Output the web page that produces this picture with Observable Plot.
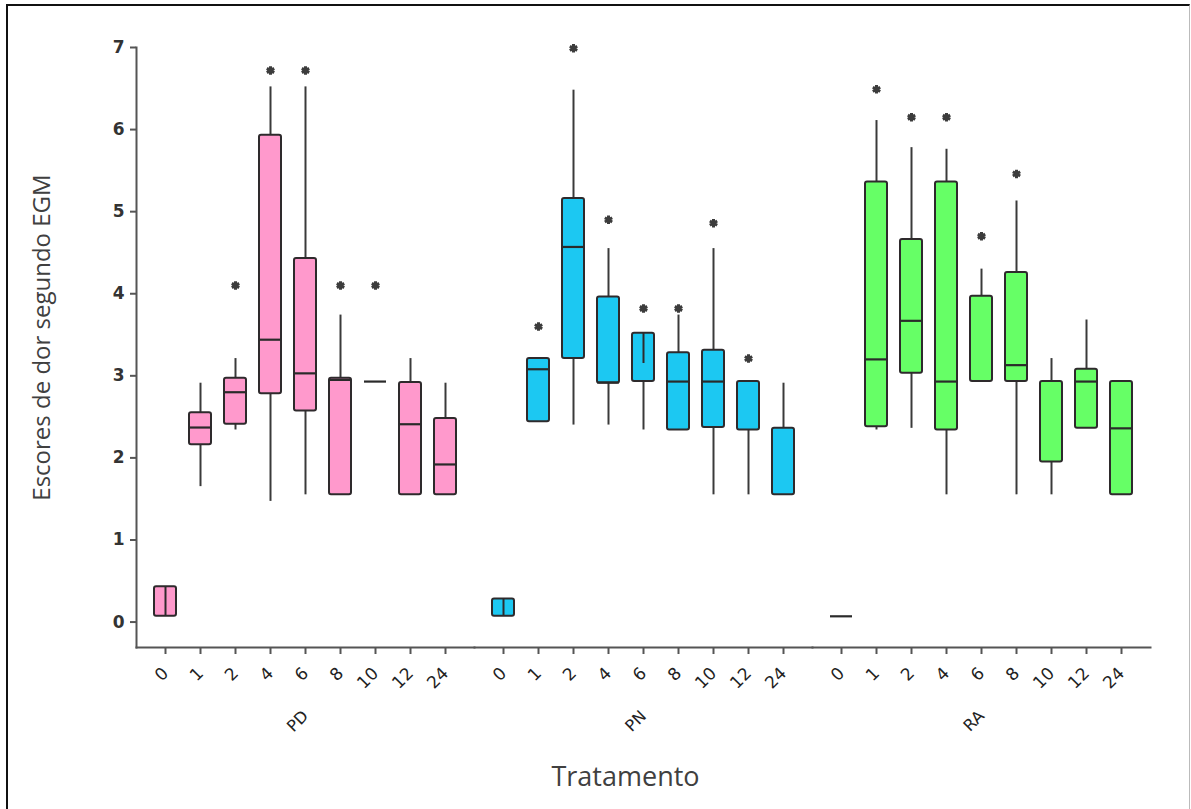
<!DOCTYPE html>
<html>
<head>
<meta charset="utf-8">
<script src="https://cdn.jsdelivr.net/npm/d3@7"></script>
<script src="https://cdn.jsdelivr.net/npm/@observablehq/plot@0.6"></script>
<style>
  html, body { margin: 0; padding: 0; background: #fff; }
  #wrap { position: relative; width: 1191px; height: 809px; overflow: hidden; }
  #border { position: absolute; left: 6px; top: 4px; width: 1181px; height: 820px;
            border-left: 2px solid #111; border-top: 2px solid #111; border-right: 1px solid #bbb; }
  #chart { position: absolute; left: 0; top: 0; }
</style>
</head>
<body>
<div id="wrap">
  <div id="border"></div>
  <div id="chart"></div>
</div>
<script>
// Groups (treatments) and time points
const groups = ["PD", "PN", "RA"];
const times = ["0", "1", "2", "4", "6", "8", "10", "12", "24"];
const groupColors = ["#ff99cc", "#1cc8f2", "#66ff66"];
const yTicks = [0, 1, 2, 3, 4, 5, 6, 7];
const yTitle = "Escores de dor segundo EGM";
const xTitle = "Tratamento";

// Box-plot summaries, 9 per group in order PD, PN, RA (null = not drawn)
const whiskerLow = [
  null, 1.65, 2.34, 1.47, 1.55, null, null, null, null,
  null, null, 2.40, 2.40, 2.34, null, 1.55, 1.55, null,
  null, 2.34, 2.36, 1.55, null, 1.55, 1.55, null, null
];
const q1 = [
  0.07, 2.16, 2.41, 2.78, 2.57, 1.55, null, 1.55, 1.55,
  0.07, 2.44, 3.21, 2.91, 2.93, 2.34, 2.37, 2.34, 1.55,
  null, 2.38, 3.03, 2.34, 2.93, 2.93, 1.95, 2.36, 1.55
];
const median = [
  null, 2.37, 2.80, 3.44, 3.03, 2.95, 2.93, 2.41, 1.92,
  null, 3.08, 4.57, 2.92, null, 2.93, 2.93, null, null,
  0.07, 3.20, 3.67, 2.93, null, 3.13, null, 2.93, 2.36
];
const q3 = [
  0.43, 2.55, 2.97, 5.93, 4.43, 2.97, null, 2.92, 2.48,
  0.28, 3.21, 5.16, 3.96, 3.52, 3.28, 3.31, 2.93, 2.36,
  null, 5.36, 4.66, 5.36, 3.97, 4.26, 2.93, 3.08, 2.93
];
const whiskerHigh = [
  null, 2.91, 3.21, 6.52, 6.52, 3.74, null, 3.21, 2.91,
  null, null, 6.48, 4.55, null, 3.74, 4.55, null, 2.91,
  null, 6.11, 5.78, 5.76, 4.30, 5.13, 3.21, 3.68, null
];
const outlier = [
  null, null, 4.10, 6.72, 6.72, 4.10, 4.10, null, null,
  null, 3.60, 6.99, 4.90, 3.82, 3.82, 4.86, 3.21, null,
  null, 6.49, 6.15, 6.15, 4.70, 5.46, null, null, null
];
// vertical line drawn inside some boxes (as in the original figure)
const innerLow = [
  0.07, null, null, null, null, null, null, null, null,
  0.07, null, null, null, 3.15, null, null, null, null,
  null, null, null, null, null, null, null, null, null
];
const innerHigh = [
  0.43, null, null, null, null, null, null, null, null,
  0.28, null, null, null, 3.52, null, null, null, null,
  null, null, null, null, null, null, null, null, null
];

const rows = groups.flatMap((g, gi) => times.map((t, ti) => {
  const i = gi * times.length + ti;
  return {
    group: g, time: t,
    lo: whiskerLow[i], q1: q1[i], med: median[i], q3: q3[i], hi: whiskerHigh[i],
    out: outlier[i], inLo: innerLow[i], inHi: innerHigh[i]
  };
}));

const ink = "#3a3a3a";
const tickFont = "DejaVu Sans, Verdana, sans-serif";
const titleFont = "Open Sans, sans-serif";

const chart = Plot.plot({
  width: 1191,
  height: 809,
  marginLeft: 136,
  marginRight: 41,
  marginTop: 47,
  marginBottom: 162,
  fx: { domain: groups, padding: 0, label: null, axis: null },
  x: { domain: times, paddingInner: 0.37, paddingOuter: 0.51, label: null, axis: null },
  y: { domain: [-0.31, 7], label: null, axis: null },
  color: { domain: groups, range: groupColors },
  style: { fontFamily: tickFont, background: "transparent", overflow: "visible" },
  marks: [
    Plot.frame({ anchor: "bottom", stroke: "#555", strokeWidth: 2 }),
    Plot.frame({ anchor: "left", stroke: "#555", strokeWidth: 2, facetAnchor: "left" }),
    Plot.ruleX(rows.filter(d => d.lo != null), {
      fx: "group", x: "time", y1: "lo", y2: "q1", stroke: ink, strokeWidth: 2
    }),
    Plot.ruleX(rows.filter(d => d.hi != null), {
      fx: "group", x: "time", y1: "q3", y2: "hi", stroke: ink, strokeWidth: 2
    }),
    Plot.barY(rows.filter(d => d.q1 != null), {
      fx: "group", x: "time", y1: "q1", y2: "q3", fill: "group",
      stroke: "#2e2a2c", strokeWidth: 2, rx: 2
    }),
    Plot.ruleX(rows.filter(d => d.inLo != null), {
      fx: "group", x: "time", y1: "inLo", y2: "inHi", stroke: "#2e2a2c", strokeWidth: 2
    }),
    Plot.tickY(rows.filter(d => d.med != null), {
      fx: "group", x: "time", y: "med", stroke: "#2a2a2a", strokeWidth: 2.2
    }),
    Plot.dot(rows.filter(d => d.out != null), {
      fx: "group", x: "time", y: "out", symbol: "asterisk", r: 4,
      stroke: "#3c3c3c", strokeWidth: 3
    }),
    Plot.axisY({
      ticks: yTicks, tickSize: 6, tickPadding: 6, strokeWidth: 2, stroke: "#555",
      fill: "#333", fontSize: 17, fontWeight: "bold", label: null
    }),
    Plot.axisX({
      tickRotate: -45, tickSize: 7, tickPadding: 16, strokeWidth: 2, stroke: "#555",
      fill: "#222", fontSize: 17, label: null
    }),
    Plot.axisFx({
      anchor: "bottom", tickRotate: -45, tickSize: 0, tickPadding: 66,
      fill: "#222", fontSize: 16, label: null
    }),
    Plot.text([yTitle], {
      facet: "super", frameAnchor: "left", textAnchor: "middle", rotate: -90,
      dx: -94, dy: -10, fontSize: 24, fill: "#404040", fontFamily: titleFont
    }),
    Plot.text([xTitle], {
      facet: "super", frameAnchor: "bottom", dx: -18, dy: 138,
      fontSize: 27, fill: "#404040", fontFamily: titleFont
    })
  ]
});

document.getElementById("chart").appendChild(chart);
</script>
</body>
</html>
